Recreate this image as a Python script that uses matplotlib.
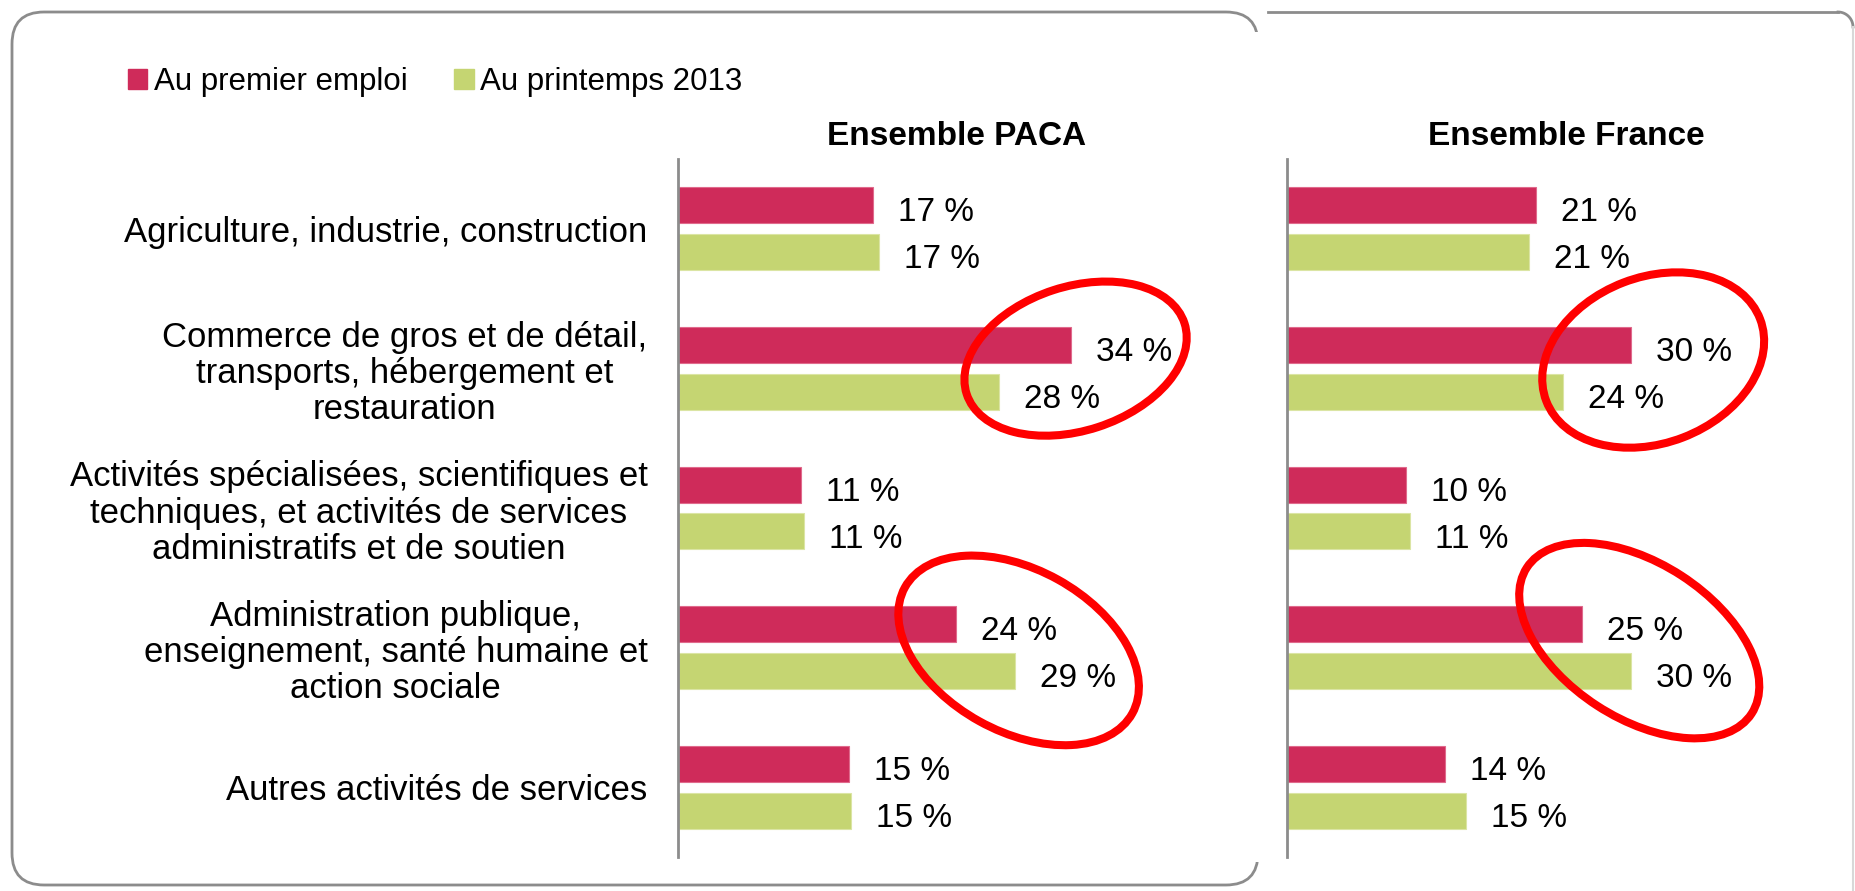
import numpy as np
import matplotlib
matplotlib.use("Agg")
import matplotlib.pyplot as plt
from matplotlib.patches import Patch, Ellipse, FancyBboxPatch, Rectangle
from matplotlib.lines import Line2D
from matplotlib.transforms import IdentityTransform

plt.rcParams['font.family'] = ['Liberation Sans', 'DejaVu Sans']

# Data (shares of employment by sector, %)
categories = [
    "Agriculture, industrie, construction",
    "Commerce de gros et de détail,\ntransports, hébergement et\nrestauration",
    "Activités spécialisées, scientifiques et\ntechniques, et activités de services\nadministratifs et de soutien",
    "Administration publique,\nenseignement, santé humaine et\naction sociale",
    "Autres activités de services",
]
series_names = ["Au premier emploi", "Au printemps 2013"]
paca_premier = [16.8, 33.8, 10.6, 23.9, 14.7]
paca_printemps = [17.3, 27.6, 10.8, 29.0, 14.9]
france_premier = [21.4, 29.6, 10.2, 25.4, 13.6]
france_printemps = [20.8, 23.7, 10.6, 29.6, 15.4]
panel_titles = ["Ensemble PACA", "Ensemble France"]

# highlighted groups: (x centre, y centre, width px, height px, angle)
highlights_paca = [(34.2, 0.93, 229, 144, 18), (29.3, 3.02, 260, 162, -29)]
highlights_france = [(31.5, 0.94, 229, 166, 21), (30.3, 2.95, 268, 155, -33)]

RED = '#cf2b5a'
GREEN = '#c5d572'
GREY = '#8c8c8c'

W, H = 1856, 891
fig = plt.figure(figsize=(W / 100, H / 100), dpi=100)

# frames (pixel coords, y up)
box = FancyBboxPatch((12, H - 885), 1246, 873, boxstyle="round,pad=0,rounding_size=32",
                     transform=IdentityTransform(), fill=False, ec=GREY, lw=2)
fig.add_artist(box)
fig.add_artist(Rectangle((1248, H - 862), 20, 830, transform=IdentityTransform(),
                         fc='white', ec='none'))
fig.add_artist(Line2D([1268, 1838], [H - 12, H - 12], transform=IdentityTransform(),
                      color=GREY, lw=2))
th = np.linspace(0, np.pi / 2, 20)
fig.add_artist(Line2D(1838 + 15 * np.sin(th), H - 27 + 15 * np.cos(th),
                      transform=IdentityTransform(), color=GREY, lw=2))
fig.add_artist(Line2D([1853, 1853], [H - 27, 0], transform=IdentityTransform(),
                      color='#d8d8d8', lw=1.5))

y = np.arange(len(categories))
off = 0.168
bh = 0.258

axes = []
for i, (prem, prin, title, hl) in enumerate(zip(
        [paca_premier, france_premier], [paca_printemps, france_printemps],
        panel_titles, [highlights_paca, highlights_france])):
    left = [678, 1287][i]
    ax = fig.add_axes([left / W, 1 - 857 / H, 558 / W, 698 / H])
    ax.set_facecolor('none')
    ax.barh(y - off, prem, height=bh, color=RED, edgecolor='#e06a8c', lw=0.8)
    ax.barh(y + off, prin, height=bh, color=GREEN, edgecolor='#dbe5a4', lw=0.8)
    for yy, v in zip(y - off, prem):
        ax.annotate(f"{v:.0f} %", (v, yy), xytext=(18, -5.5), textcoords='offset points',
                    va='center', fontsize=24)
    for yy, v in zip(y + off, prin):
        ax.annotate(f"{v:.0f} %", (v, yy), xytext=(18, -5.5), textcoords='offset points',
                    va='center', fontsize=24)
    ax.set_xlim(0, 48)
    ax.set_ylim(len(categories) - 0.5, -0.5)
    ax.set_xticks([])
    ax.set_yticks(y)
    if i == 0:
        ax.set_yticklabels(categories, fontsize=25, multialignment='center', linespacing=1.12)
    else:
        ax.set_yticklabels([])
    ax.tick_params(axis='y', length=0, pad=22)
    for s in ['top', 'right', 'bottom']:
        ax.spines[s].set_visible(False)
    ax.spines['left'].set_color(GREY)
    ax.spines['left'].set_linewidth(2)
    ax.set_title(title, fontsize=24, fontweight='bold', pad=10)
    for cx, cy, w, h, ang in hl:
        px, py = ax.transData.transform((cx, cy))
        fig.add_artist(Ellipse((px, py), w, h, angle=ang, transform=IdentityTransform(),
                               fill=False, ec='#ff0000', lw=5.8, zorder=5))
    axes.append(ax)

handles = [Patch(color=RED), Patch(color=GREEN)]
fig.legend(handles, series_names, loc='center left', bbox_to_anchor=(128 / W, 1 - 82 / H),
           ncol=2, frameon=False, fontsize=22.5, handlelength=0.62, handleheight=0.62,
           handletextpad=0.2, columnspacing=1.5, borderaxespad=0, borderpad=0)

fig.savefig('out.png', dpi=100)
